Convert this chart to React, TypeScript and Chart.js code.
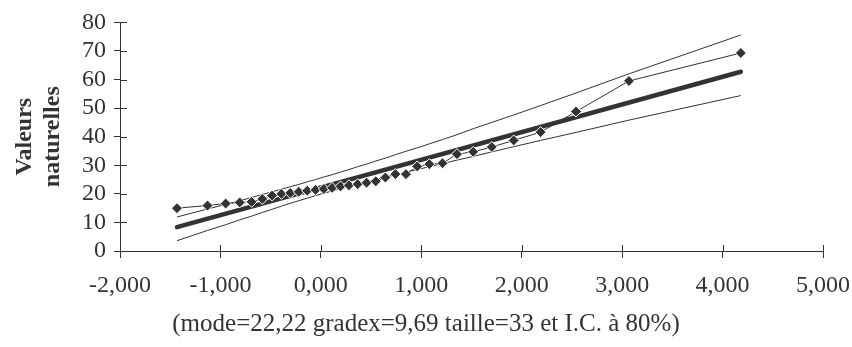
import React, { useEffect, useRef } from "react";
import { Chart, registerables } from "chart.js";

Chart.register(...registerables);

// Gumbel reduced variates (plotting positions) of the 33 observations
const reducedVariate = [
  -1.4326, -1.1285, -0.9479, -0.8082, -0.6894, -0.5832, -0.4853, -0.3931, -0.3049,
  -0.2193, -0.1355, -0.0528, 0.0297, 0.1123, 0.1956, 0.2802, 0.3665, 0.4552, 0.5469,
  0.6423, 0.7422, 0.8476, 0.9598, 1.0803, 1.2112, 1.3555, 1.517, 1.702, 1.92, 2.1882,
  2.5411, 3.0679, 4.1819,
];

// Observed (natural) values
const observedValues = [
  15.0, 15.9, 16.6, 17.0, 17.2, 18.2, 19.4, 20.0, 20.3, 20.7, 21.1, 21.4, 21.7, 22.1,
  22.6, 23.0, 23.4, 23.9, 24.4, 25.7, 26.9, 26.9, 29.6, 30.4, 30.7, 33.9, 34.7, 36.4,
  38.7, 41.6, 48.8, 59.5, 69.3,
];

// Confidence interval (80%) bounds
const upperBound = [
  11.9, 14.7, 16.3, 17.6, 18.7, 19.8, 20.7, 21.6, 22.5, 23.3, 24.2, 25.0, 25.9, 26.7,
  27.6, 28.5, 29.5, 30.4, 31.5, 32.5, 33.7, 34.9, 36.1, 37.5, 39.0, 40.7, 42.8, 45.0,
  47.6, 50.9, 55.3, 62.0, 75.6,
];
const lowerBound = [
  3.6, 7.2, 9.2, 10.9, 12.2, 13.5, 14.6, 15.7, 16.7, 17.6, 18.5, 19.4, 20.2, 21.0, 21.8,
  22.6, 23.4, 24.2, 25.0, 25.8, 26.7, 27.6, 28.5, 29.5, 30.6, 31.8, 33.1, 34.7, 36.5,
  38.7, 41.5, 45.8, 54.4,
];

// Fitted Gumbel line (mode=22,22 gradex=9,69)
const fitVariate = [-1.4326, 4.1819];
const fitValues = [8.34, 62.74];

const xTickValues = [-2, -1, 0, 1, 2, 3, 4, 5];
const yTickValues = [0, 10, 20, 30, 40, 50, 60, 70, 80];

const yTitle = ["Valeurs", "naturelles"];
const xTitle = "(mode=22,22 gradex=9,69 taille=33 et I.C. à 80%)";

const INK = "#333333";
const FONT = "'Liberation Serif', 'Times New Roman', serif";

const innerTicks = {
  id: "innerTicks",
  afterDraw(chart: any) {
    const { ctx, chartArea, scales } = chart;
    ctx.save();
    ctx.strokeStyle = INK;
    ctx.lineWidth = 1;
    ctx.beginPath();
    xTickValues.forEach((v) => {
      const px = Math.round(scales.x.getPixelForValue(v)) + 0.5;
      ctx.moveTo(px, chartArea.bottom);
      ctx.lineTo(px, chartArea.bottom - 6);
    });
    yTickValues.forEach((v) => {
      const py = Math.round(scales.y.getPixelForValue(v)) + 0.5;
      ctx.moveTo(chartArea.left, py);
      ctx.lineTo(chartArea.left + 7, py);
    });
    ctx.stroke();
    ctx.restore();
  },
};

export default function App() {
  const ref = useRef<HTMLCanvasElement | null>(null);

  useEffect(() => {
    if (!ref.current) return;
    const toPts = (xs: number[], ys: number[]) => xs.map((x, i) => ({ x, y: ys[i] }));
    const chart = new Chart(ref.current, {
      type: "scatter",
      data: {
        datasets: [
          {
            data: toPts(reducedVariate, observedValues),
            showLine: true,
            borderColor: INK,
            borderWidth: 1,
            pointStyle: "rectRot",
            pointRadius: 5.5,
            pointBackgroundColor: INK,
            pointBorderColor: "#ffffff",
            pointBorderWidth: 1,
          },
          {
            data: toPts(fitVariate, fitValues),
            showLine: true,
            borderColor: INK,
            borderWidth: 4.5,
            borderCapStyle: "round",
            pointRadius: 0,
          },
          {
            data: toPts(reducedVariate, upperBound),
            showLine: true,
            borderColor: INK,
            borderWidth: 1,
            pointRadius: 0,
          },
          {
            data: toPts(reducedVariate, lowerBound),
            showLine: true,
            borderColor: INK,
            borderWidth: 1,
            pointRadius: 0,
          },
        ],
      },
      options: {
        animation: false,
        responsive: false,
        maintainAspectRatio: false,
        layout: { padding: { top: 20, right: 0, left: 0, bottom: 0 } },
        plugins: {
          legend: { display: false },
          tooltip: { enabled: false },
          title: {
            display: true,
            position: "bottom",
            text: xTitle,
            color: INK,
            font: { family: FONT, size: 25, weight: "normal" },
            padding: { top: 0, bottom: 8 },
          },
        },
        scales: {
          x: {
            type: "linear",
            min: -2,
            max: 5,
            afterBuildTicks: (s: any) => {
              s.ticks = xTickValues.map((v) => ({ value: v }));
            },
            afterFit: (s: any) => {
              s.height = 58;
              s.paddingRight = 29;
              s.paddingLeft = 0;
            },
            border: { color: INK, width: 1 },
            grid: { drawOnChartArea: false, tickLength: 7, color: INK },
            ticks: {
              color: INK,
              font: { family: FONT, size: 24 },
              padding: 13,
              maxRotation: 0,
              autoSkip: false,
              callback: (v: any) => Number(v).toFixed(3).replace(".", ","),
            },
          },
          y: {
            type: "linear",
            min: 0,
            max: 80,
            afterBuildTicks: (s: any) => {
              s.ticks = yTickValues.map((v) => ({ value: v }));
            },
            afterFit: (s: any) => {
              s.width = 120;
            },
            border: { color: INK, width: 1 },
            grid: { drawOnChartArea: false, tickLength: 6, color: INK },
            ticks: {
              color: INK,
              font: { family: FONT, size: 24 },
              padding: 8,
              autoSkip: false,
            },
            title: {
              display: true,
              text: yTitle,
              color: INK,
              font: { family: FONT, size: 24, weight: "bold" },
              padding: { top: 10, bottom: 0 },
            },
          },
        },
      },
      plugins: [innerTicks],
    });
    return () => chart.destroy();
  }, []);

  return (
    <div style={{ position: "fixed", left: 0, top: 0, width: 852, height: 347, background: "#fff" }}>
      <canvas ref={ref} width={852} height={347} style={{ width: 852, height: 347 }} />
    </div>
  );
}
